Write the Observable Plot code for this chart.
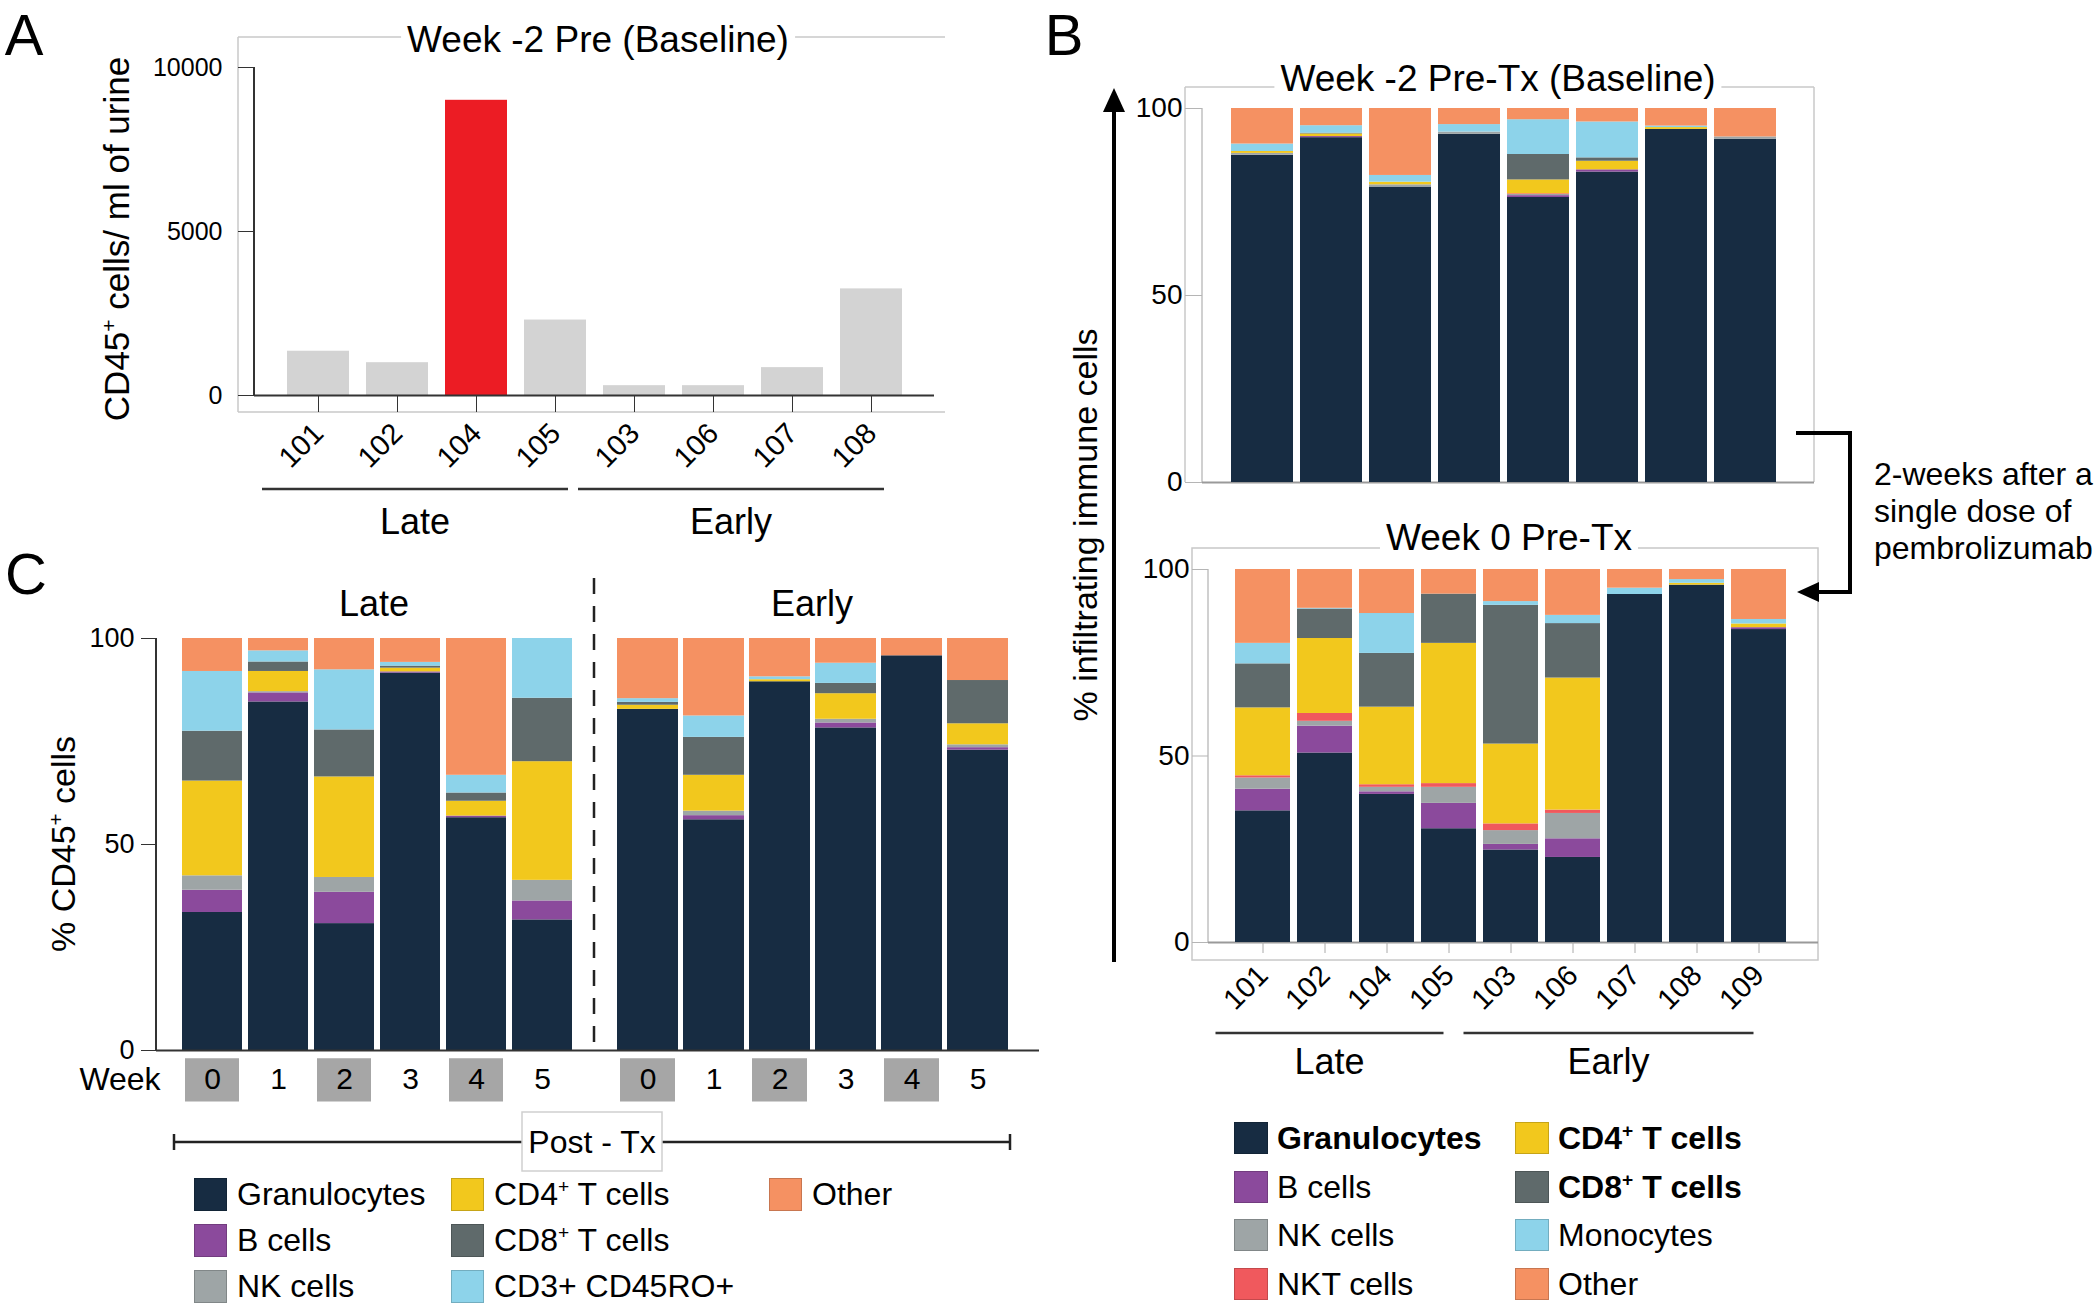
<!DOCTYPE html>
<html><head><meta charset="utf-8">
<script src="https://cdn.jsdelivr.net/npm/d3@7"></script>
<script src="https://cdn.jsdelivr.net/npm/@observablehq/plot@0.6"></script>
<style>
body{margin:0;background:#fff;font-family:"Liberation Sans",Arial,Helvetica,sans-serif;color:#000;}
#page{position:relative;width:2100px;height:1304px;overflow:hidden;background:#fff;}
.abs{position:absolute;white-space:nowrap;line-height:1;}
.sup{font-size:0.6em;vertical-align:0.6em;line-height:0;}
.sw{position:absolute;box-sizing:border-box;border:1px solid rgba(0,0,0,0.18);}
</style></head><body><div id="page"></div>
<script>
// ---------------- DATA ----------------
// Panel A
const aPatients = ["101","102","104","105","103","106","107","108"];
const aCounts   = [1350, 1000, 9000, 2300, 300, 300, 850, 3250];
const aHighlight = "104";
const aTicks = [0, 5000, 10000];
const lateGroup  = ["101","102","104","105"];
const earlyGroupA = ["103","106","107","108"];
const earlyGroupB = ["103","106","107","108","109"];

// Panel B
const bCellTypes = ["Granulocytes","B cells","NK cells","NKT cells","CD4⁺ T cells","CD8⁺ T cells","Monocytes","Other"];
const bColors    = ["#172c42","#8b4a9c","#9ea5a6","#f0595d","#f2c81d","#5f6a6b","#8dd3ea","#f59162"];
const bBoldTypes = ["Granulocytes","CD4⁺ T cells","CD8⁺ T cells"];
const pctTicks = [0, 50, 100];

const baselinePatients = ["101","102","104","105","103","106","107","108"];
const baselineGranulocytes = [87.5, 92.2, 79.0, 93.1, 76.2, 83.0, 94.4, 91.8];
const baselineBcells       = [0, 0.3, 0, 0, 0.5, 0.6, 0, 0];
const baselineNKcells      = [0.5, 0, 0.6, 0.6, 0.3, 0, 0, 0.6];
const baselineNKTcells     = [0, 0, 0, 0, 0.2, 0, 0, 0];
const baselineCD4          = [0.5, 0.7, 0.7, 0, 3.7, 2.3, 0.5, 0];
const baselineCD8          = [0, 0.2, 0, 0, 6.8, 0.9, 0, 0];
const baselineMonocytes    = [2.0, 2.0, 1.8, 2.0, 9.3, 9.6, 0.4, 0];
const baselineOther        = [9.5, 4.6, 17.9, 4.3, 3.0, 3.6, 4.7, 7.6];

const week0Patients = ["101","102","104","105","103","106","107","108","109"];
const week0Granulocytes = [35.3, 50.8, 39.7, 30.5, 24.8, 22.8, 93.3, 95.8, 83.9];
const week0Bcells       = [5.8, 7.2, 0.7, 6.8, 1.5, 5.0, 0, 0, 0.5];
const week0NKcells      = [3.0, 1.3, 1.2, 4.3, 3.7, 6.8, 0, 0, 0];
const week0NKTcells     = [0.6, 2.1, 0.7, 1.0, 1.8, 0.9, 0, 0, 0];
const week0CD4          = [18.2, 20.1, 20.8, 37.6, 21.4, 35.4, 0, 0.5, 1.0];
const week0CD8          = [11.8, 7.9, 14.4, 13.2, 37.2, 14.6, 0, 0, 0];
const week0Monocytes    = [5.5, 0.2, 10.7, 0, 1.0, 2.2, 1.7, 1.0, 1.2];
const week0Other        = [19.8, 10.4, 11.8, 6.6, 8.6, 12.3, 5.0, 2.7, 13.4];

// Panel C
const cCellTypes = ["Granulocytes","B cells","NK cells","CD4⁺ T cells","CD8⁺ T cells","CD3+ CD45RO+","Other"];
const cColors    = ["#172c42","#8b4a9c","#9ea5a6","#f2c81d","#5f6a6b","#8dd3ea","#f59162"];
const cWeeks = ["0","1","2","3","4","5"];
const cShadedWeeks = ["0","2","4"];

const lateGranulocytes = [33.5, 84.6, 30.8, 91.6, 56.5, 31.7];
const lateBcells       = [5.4, 2.2, 7.6, 0.3, 0.4, 4.6];
const lateNKcells      = [3.5, 0.3, 3.6, 0, 0, 5.0];
const lateCD4          = [23.0, 4.9, 24.4, 0.9, 3.6, 28.8];
const lateCD8          = [12.1, 2.3, 11.4, 0.5, 2.0, 15.4];
const lateCD45RO       = [14.5, 2.7, 14.6, 0.9, 4.3, 14.5];
const lateOther        = [8.0, 3.0, 7.6, 5.8, 33.2, 0];

const earlyGranulocytes = [82.8, 56.0, 89.5, 78.3, 95.8, 72.9];
const earlyBcells       = [0, 1.0, 0, 1.2, 0, 0.6];
const earlyNKcells      = [0, 1.1, 0, 0.9, 0, 0.7];
const earlyCD4          = [1.0, 8.7, 0.5, 6.2, 0, 5.1];
const earlyCD8          = [0.7, 9.2, 0, 2.5, 0, 10.5];
const earlyCD45RO       = [0.9, 5.2, 0.7, 4.9, 0, 0];
const earlyOther        = [14.6, 18.8, 9.3, 6.0, 4.2, 10.2];

// ---------------- HELPERS ----------------
const FONT = '"Liberation Sans", Arial, Helvetica, sans-serif';
const page = document.getElementById("page");

function longTable(cats, types, series) {
  const rows = [];
  cats.forEach((c, i) => types.forEach((t, j) => rows.push({cat: c, type: t, value: series[j][i]})));
  return rows;
}
function sup(s) { return s.replace(/⁺/g, '<span class="sup">+</span>'); }
function label(html, x, y, o = {}) {
  const d = document.createElement("div");
  d.className = "abs";
  d.innerHTML = html;
  d.style.fontSize = (o.size || 32) + "px";
  if (o.weight) d.style.fontWeight = o.weight;
  if (o.bg) { d.style.background = o.bg; d.style.padding = o.pad || "0 6px"; }
  d.style.left = x + "px"; d.style.top = y + "px";
  const tx = o.anchor === "start" ? "0" : o.anchor === "end" ? "-100%" : "-50%";
  d.style.transform = `translate(${tx},-50%)` + (o.rotate ? ` rotate(${o.rotate}deg)` : "");
  page.appendChild(d);
  return d;
}
function place(svg, left, top) {
  svg.style.position = "absolute"; svg.style.left = left + "px"; svg.style.top = top + "px";
  page.appendChild(svg);
  return svg;
}
const baseStyle = {background: "none", overflow: "visible", fontFamily: FONT, color: "#000"};

// decoration layer
const deco = d3.select(page).append("svg")
  .attr("width", 2100).attr("height", 1304)
  .style("position", "absolute").style("left", 0).style("top", 0);
function line(x1, y1, x2, y2, stroke = "#333", w = 2, dash = null) {
  const l = deco.append("line").attr("x1", x1).attr("y1", y1).attr("x2", x2).attr("y2", y2)
    .attr("stroke", stroke).attr("stroke-width", w);
  if (dash) l.attr("stroke-dasharray", dash);
  return l;
}
function poly(points, fill = "#000") {
  deco.append("polygon").attr("points", points.map(p => p.join(",")).join(" ")).attr("fill", fill);
}

// ---------------- PANEL A ----------------
const aRows = aPatients.map((p, i) => ({patient: p, count: aCounts[i]}));
const A = {L: 0, T: 0, W: 960, H: 540, axisX: 254, y0: 395, yTop: 67, right: 934};
const plotA = Plot.plot({
  width: A.W, height: A.H,
  marginLeft: A.axisX - A.L, marginTop: A.yTop - A.T, marginBottom: A.T + A.H - A.y0, marginRight: A.L + A.W - A.right,
  style: baseStyle,
  x: {type: "band", domain: aPatients, range: [277.4 - A.L, 910.6 - A.L], paddingInner: 0.2166, paddingOuter: 0.1083, align: 0.5, label: null},
  y: {domain: [0, 10000], label: null},
  marks: [
    Plot.barY(aRows.filter(d => d.patient !== aHighlight), {x: "patient", y: "count", fill: "#d3d3d3"}),
    Plot.barY(aRows.filter(d => d.patient === aHighlight), {x: "patient", y: "count", fill: "#ec1c24"}),
    Plot.ruleY([0], {stroke: "#333", strokeWidth: 2}),
    Plot.axisY({ticks: aTicks, tickFormat: d => String(d), tickSize: 16, tickPadding: 16, fontSize: 25, stroke: "#333", label: null}),
    Plot.axisX({tickSize: 17, tickRotate: -45, tickPadding: 16, fontSize: 29, stroke: "#333", label: null})
  ]
});
place(plotA, A.L, A.T);
// frame & axis line
line(238, 37, 945, 37, "#c8c8c8", 1.5);
line(238, 37, 238, 412, "#c8c8c8", 1.5);
line(238, 412, 945, 412, "#c8c8c8", 1.5);
line(A.axisX, A.yTop, A.axisX, A.y0, "#333", 2);
{
  const sx = plotA.scale("x");
  const c = p => A.L + sx.apply(p) + sx.bandwidth / 2;
  for (const [g, name] of [[lateGroup, "Late"], [earlyGroupA, "Early"]]) {
    const x1 = c(g[0]) - 56, x2 = c(g[g.length - 1]) + 13;
    line(x1, 489, x2, 489, "#333", 2.5);
    label(name, (x1 + x2) / 2, 522, {size: 36});
  }
}
label("Week -2 Pre (Baseline)", 598, 39, {size: 37, bg: "#fff"});
label("CD45" + sup("⁺") + " cells/ ml of urine", 116, 239, {size: 35, rotate: -90});
label("A", 24, 35, {size: 58});

// ---------------- PANEL B (top) ----------------
const bColor = {domain: bCellTypes, range: bColors};
const baselineRows = longTable(baselinePatients, bCellTypes,
  [baselineGranulocytes, baselineBcells, baselineNKcells, baselineNKTcells, baselineCD4, baselineCD8, baselineMonocytes, baselineOther]);
const BT = {L: 1040, T: 40, W: 800, H: 480, axisX: 1202, y0: 482, yTop: 108, right: 1814};
const plotBT = Plot.plot({
  width: BT.W, height: BT.H,
  marginLeft: BT.axisX - BT.L, marginTop: BT.yTop - BT.T, marginBottom: BT.T + BT.H - BT.y0, marginRight: BT.L + BT.W - BT.right,
  style: baseStyle,
  x: {type: "band", domain: baselinePatients, range: [1223.6 - BT.L, 1782.3 - BT.L], paddingInner: 0.104, paddingOuter: 0.052, axis: null},
  y: {domain: [0, 100], label: null},
  color: bColor,
  marks: [
    Plot.ruleY([0], {stroke: "#9a9a9a", strokeWidth: 2}),
    Plot.barY(baselineRows, {x: "cat", y: "value", fill: "type"}),
    Plot.axisY({ticks: pctTicks, tickSize: 17, tickPadding: 3, fontSize: 28, stroke: "#b5b5b5", label: null})
  ]
});
place(plotBT, BT.L, BT.T);
line(1185, 87, 1814, 87, "#c8c8c8", 1.5);
line(1185, 87, 1185, 482, "#c8c8c8", 1.5);
line(1814, 87, 1814, 482, "#c8c8c8", 1.5);
line(BT.axisX, BT.yTop, BT.axisX, BT.y0, "#c0c0c0", 1.5);
label("Week -2 Pre-Tx (Baseline)", 1498, 78, {size: 37, bg: "#fff"});

// ---------------- PANEL B (bottom) ----------------
const week0Rows = longTable(week0Patients, bCellTypes,
  [week0Granulocytes, week0Bcells, week0NKcells, week0NKTcells, week0CD4, week0CD8, week0Monocytes, week0Other]);
const BB = {L: 1040, T: 520, W: 800, H: 560, axisX: 1208, y0: 942, yTop: 569, right: 1818};
const plotBB = Plot.plot({
  width: BB.W, height: BB.H,
  marginLeft: BB.axisX - BB.L, marginTop: BB.yTop - BB.T, marginBottom: BB.T + BB.H - BB.y0, marginRight: BB.L + BB.W - BB.right,
  style: baseStyle,
  x: {type: "band", domain: week0Patients, range: [1228.5 - BB.L, 1792.1 - BB.L], paddingInner: 0.107, paddingOuter: 0.0535, label: null},
  y: {domain: [0, 100], label: null},
  color: bColor,
  marks: [
    Plot.ruleY([0], {stroke: "#9a9a9a", strokeWidth: 2}),
    Plot.barY(week0Rows, {x: "cat", y: "value", fill: "type"}),
    Plot.axisY({ticks: pctTicks, tickSize: 16, tickPadding: 3, fontSize: 28, stroke: "#b5b5b5", label: null}),
    Plot.axisX({tickSize: 11, tickRotate: -45, tickPadding: 17, fontSize: 29, stroke: "#aaa", label: null})
  ]
});
place(plotBB, BB.L, BB.T);
deco.append("rect").attr("x", 1192).attr("y", 548).attr("width", 1818 - 1192).attr("height", 960 - 548)
  .attr("fill", "none").attr("stroke", "#c8c8c8").attr("stroke-width", 1.5);
line(BB.axisX, BB.yTop, BB.axisX, BB.y0, "#c0c0c0", 1.5);
{
  const sx = plotBB.scale("x");
  const c = p => BB.L + sx.apply(p) + sx.bandwidth / 2;
  for (const [g, name] of [[lateGroup, "Late"], [earlyGroupB, "Early"]]) {
    const x1 = c(g[0]) - 47, x2 = c(g[g.length - 1]) - 5;
    line(x1, 1033, x2, 1033, "#333", 2.5);
    label(name, (x1 + x2) / 2, 1062, {size: 36});
  }
}
label("Week 0 Pre-Tx", 1509, 537, {size: 37, bg: "#fff"});
// big arrow (y-axis of B)
line(1114, 962, 1114, 104, "#000", 4);
poly([[1114, 88], [1103, 112], [1125, 112]]);
label("% infiltrating immune cells", 1085, 525, {size: 34, rotate: -90});
// bracket between the two panels
deco.append("polyline").attr("points", "1796,433 1850,433 1850,592 1814,592")
  .attr("fill", "none").attr("stroke", "#000").attr("stroke-width", 4);
poly([[1797, 592], [1819, 582], [1819, 602]]);
label("2-weeks after a", 1874, 474, {size: 32, anchor: "start"});
label("single dose of", 1874, 511, {size: 32, anchor: "start"});
label("pembrolizumab", 1874, 548, {size: 32, anchor: "start"});
label("B", 1064, 35, {size: 58});

// legend B
bCellTypes.forEach((t, i) => {
  const col = Math.floor(i / 4), row = i % 4;
  const cy = 1138 + row * 48.7;
  const sx = col === 0 ? 1234 : 1515;
  const s = document.createElement("div");
  s.className = "sw"; s.style.left = sx + "px"; s.style.top = (cy - 16) + "px";
  s.style.width = "34px"; s.style.height = "32px"; s.style.background = bColors[i];
  page.appendChild(s);
  label(sup(t), sx + 43, cy, {size: 32, anchor: "start", weight: bBoldTypes.includes(t) ? "bold" : null});
});

// ---------------- PANEL C ----------------
const cColor = {domain: cCellTypes, range: cColors};
const lateRows = longTable(cWeeks, cCellTypes,
  [lateGranulocytes, lateBcells, lateNKcells, lateCD4, lateCD8, lateCD45RO, lateOther]);
const earlyRows = longTable(cWeeks, cCellTypes,
  [earlyGranulocytes, earlyBcells, earlyNKcells, earlyCD4, earlyCD8, earlyCD45RO, earlyOther]);
const C = {T: 560, H: 560, y0: 1050, yTop: 638, axisX: 156, split: 594, right: 1039};
const weekMarks = [
  Plot.barY(cShadedWeeks, {x: d => d, y1: -2, y2: -12.5, fill: "#a6a6a6", insetLeft: 3, insetRight: 3}),
  Plot.text(cWeeks, {x: d => d, y: -7.1, text: d => d, fontSize: 30, fill: "#000"})
];
const CL = {L: 60, W: C.split - 60};
const plotCL = Plot.plot({
  width: CL.W, height: C.H,
  marginLeft: C.axisX - CL.L, marginTop: C.yTop - C.T, marginBottom: C.T + C.H - C.y0, marginRight: 0,
  style: baseStyle,
  x: {type: "band", domain: cWeeks, range: [177.8 - CL.L, 576.2 - CL.L], paddingInner: 0.089, paddingOuter: 0.0445, axis: null},
  y: {domain: [0, 100], label: null},
  color: cColor,
  marks: [
    Plot.barY(lateRows, {x: "cat", y: "value", fill: "type"}),
    Plot.ruleY([0], {stroke: "#333", strokeWidth: 2}),
    Plot.axisY({ticks: pctTicks, tickSize: 15, tickPadding: 7, fontSize: 27, stroke: "#333", label: null}),
    ...weekMarks
  ]
});
place(plotCL, CL.L, C.T);
const CE = {L: C.split, W: 1050 - C.split};
const plotCE = Plot.plot({
  width: CE.W, height: C.H,
  marginLeft: 0, marginTop: C.yTop - C.T, marginBottom: C.T + C.H - C.y0, marginRight: CE.L + CE.W - C.right,
  style: baseStyle,
  x: {type: "band", domain: cWeeks, range: [613.05 - CE.L, 1012.05 - CE.L], paddingInner: 0.083, paddingOuter: 0.0415, axis: null},
  y: {domain: [0, 100], axis: null},
  color: cColor,
  marks: [
    Plot.barY(earlyRows, {x: "cat", y: "value", fill: "type"}),
    Plot.ruleY([0], {stroke: "#333", strokeWidth: 2}),
    ...weekMarks
  ]
});
place(plotCE, CE.L, C.T);
line(C.axisX, C.yTop, C.axisX, C.y0, "#333", 2);
line(C.split, 578, C.split, C.y0, "#222", 2.5, "16 12");
label("Late", 374, 604, {size: 36});
label("Early", 812, 604, {size: 36});
label("Week", 120, 1079, {size: 32});
label("% CD45" + sup("⁺") + " cells", 63, 844, {size: 34, rotate: -90});
label("C", 26, 574, {size: 58});
// Post - Tx bracket
line(174, 1142, 1010, 1142, "#222", 2.5);
line(174, 1134, 174, 1150, "#222", 2.5);
line(1010, 1134, 1010, 1150, "#222", 2.5);
deco.append("rect").attr("x", 522).attr("y", 1112).attr("width", 140).attr("height", 59)
  .attr("fill", "#fff").attr("stroke", "#cfcfcf").attr("stroke-width", 1.5);
label("Post - Tx", 592, 1142, {size: 32});
// legend C
cCellTypes.forEach((t, i) => {
  const col = Math.floor(i / 3), row = i % 3;
  const cy = 1194 + row * 46;
  const sx = [194, 451, 769][col];
  const s = document.createElement("div");
  s.className = "sw"; s.style.left = sx + "px"; s.style.top = (cy - 16.5) + "px";
  s.style.width = "33px"; s.style.height = "33px"; s.style.background = cColors[i];
  page.appendChild(s);
  label(sup(t), sx + 43, cy, {size: 32, anchor: "start"});
});
</script></body></html>
